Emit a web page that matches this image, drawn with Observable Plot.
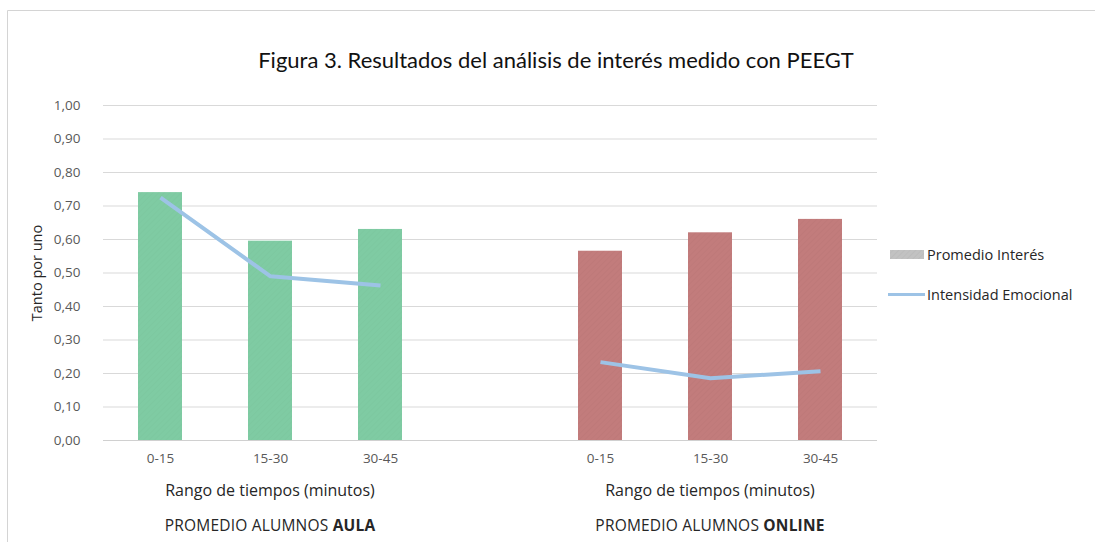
<!DOCTYPE html>
<html>
<head>
<meta charset="utf-8">
<script src="https://cdn.jsdelivr.net/npm/d3@7"></script>
<script src="https://cdn.jsdelivr.net/npm/@observablehq/plot@0.6"></script>
<style>
  html, body { margin: 0; padding: 0; background: #fff; }
  #chart { width: 1095px; height: 542px; }
</style>
</head>
<body>
<div id="chart"></div>
<script>
// ---- data ----
const titleText = "Figura 3. Resultados del análisis de interés medido con PEEGT";
const yLabel = "Tanto por uno";
const xLabel = "Rango de tiempos (minutos)";
const categories = ["0-15", "15-30", "30-45"];
const groups = ["AULA", "ONLINE"];
const groupPrefix = "PROMEDIO ALUMNOS ";
const interesAula = [0.74, 0.595, 0.63];
const interesOnline = [0.565, 0.62, 0.66];
const emocionAula = [0.725, 0.49, 0.463];
const emocionOnline = [0.234, 0.186, 0.207];
const yTicks = [0, 0.1, 0.2, 0.3, 0.4, 0.5, 0.6, 0.7, 0.8, 0.9, 1.0];
const legendLabels = ["Promedio Interés", "Intensidad Emocional"];

// ---- build tables ----
const key = (g, c) => g + "|" + c;
const aulaKeys = categories.map(c => key("AULA", c));
const onlineKeys = categories.map(c => key("ONLINE", c));
const xDomain = [...aulaKeys, "gap", ...onlineKeys];
const barsAula = categories.map((c, i) => ({key: key("AULA", c), value: interesAula[i]}));
const barsOnline = categories.map((c, i) => ({key: key("ONLINE", c), value: interesOnline[i]}));
const lineData = [
  ...categories.map((c, i) => ({key: key("AULA", c), group: "AULA", value: emocionAula[i]})),
  ...categories.map((c, i) => ({key: key("ONLINE", c), group: "ONLINE", value: emocionOnline[i]}))
];

const chart = Plot.plot({
  width: 1095,
  height: 542,
  marginLeft: 103,
  marginRight: 218,
  marginTop: 105,
  marginBottom: 102,
  style: {fontFamily: "'Open Sans', sans-serif", fontSize: "13.5px", color: "#595959", background: "transparent", overflow: "visible"},
  x: {domain: xDomain, paddingInner: 0.6, paddingOuter: 0.3, axis: null},
  y: {domain: [0, 1], axis: null},
  marks: [
    Plot.gridY(yTicks, {stroke: "#d9d9d9", strokeOpacity: 1, strokeWidth: 1}),
    Plot.axisY(yTicks, {tickSize: 0, tickPadding: 23, tickFormat: d => d.toFixed(2).replace(".", ","), label: null, fill: "#595959"}),
    Plot.barY(barsAula, {x: "key", y: "value", fill: "url(#hatchG)"}),
    Plot.barY(barsOnline, {x: "key", y: "value", fill: "url(#hatchR)"}),
    Plot.ruleY([0], {stroke: "#d0d0d0", strokeWidth: 1.2}),
    Plot.line(lineData, {x: "key", y: "value", z: "group", stroke: "#9dc3e6", strokeWidth: 4, strokeLinecap: "butt"}),
    Plot.axisX([...aulaKeys, ...onlineKeys], {tickSize: 0, tickPadding: 13, tickFormat: k => k.split("|")[1], label: null, fill: "#595959"}),
    Plot.text([yLabel], {frameAnchor: "left", textAnchor: "middle", dx: -66, rotate: -90, fill: "#262626", fontSize: 14.5})
  ]
});

document.getElementById("chart").appendChild(chart);

const svg = d3.select(chart);
// patterns for hatched bars
const defs = svg.insert("defs", ":first-child");
function hatch(id, base, line) {
  const p = defs.append("pattern").attr("id", id).attr("patternUnits", "userSpaceOnUse")
    .attr("width", 4).attr("height", 4).attr("patternTransform", "rotate(45)");
  p.append("rect").attr("width", 4).attr("height", 4).attr("fill", base);
  p.append("line").attr("x1", 0).attr("y1", 0).attr("x2", 0).attr("y2", 4)
    .attr("stroke", line).attr("stroke-width", 1);
}
hatch("hatchG", "#7fcba3", "#7ac69e");
hatch("hatchR", "#c27c7c", "#bb7676");
hatch("hatchL", "#c2c2c2", "#b6b6b6");

// outer frame (top and left border)
svg.append("path").attr("d", "M7.5,542 L7.5,10.5 L1095,10.5")
  .attr("fill", "none").attr("stroke", "#d4d4d4").attr("stroke-width", 1);

// title
svg.append("text").attr("x", 556).attr("y", 68).attr("text-anchor", "middle")
  .attr("font-family", "Lato, sans-serif").attr("font-size", 22).attr("fill", "#111")
  .text(titleText);

// bottom labels positioned with the x scale
const xs = chart.scale("x");
const bw = xs.bandwidth;
const centerOf = k => xs.apply(k) + bw / 2;
const mids = [key("AULA", "15-30"), key("ONLINE", "15-30")];
groups.forEach((g, i) => {
  const cx = centerOf(mids[i]);
  svg.append("text").attr("x", cx).attr("y", 496).attr("text-anchor", "middle")
    .attr("font-family", "'Open Sans', sans-serif").attr("font-size", 16).attr("fill", "#262626")
    .text(xLabel);
  const t = svg.append("text").attr("x", cx).attr("y", 531).attr("text-anchor", "middle")
    .attr("font-family", "'Open Sans', sans-serif").attr("font-size", 15.5).attr("fill", "#262626")
    .attr("letter-spacing", 0.2);
  t.append("tspan").text(groupPrefix);
  t.append("tspan").attr("font-weight", "bold").text(g);
});

// legend
const lg = svg.append("g").attr("font-family", "'Open Sans', sans-serif").attr("font-size", 14.5)
  .attr("fill", "#262626").attr("text-anchor", "start");
lg.append("rect").attr("x", 890).attr("y", 250).attr("width", 34).attr("height", 9).attr("fill", "url(#hatchL)");
lg.append("text").attr("x", 927).attr("y", 259.5).text(legendLabels[0]);
lg.append("line").attr("x1", 888).attr("x2", 925).attr("y1", 294.5).attr("y2", 294.5)
  .attr("stroke", "#9dc3e6").attr("stroke-width", 3);
lg.append("text").attr("x", 927).attr("y", 299.5).text(legendLabels[1]);
</script>
</body>
</html>
